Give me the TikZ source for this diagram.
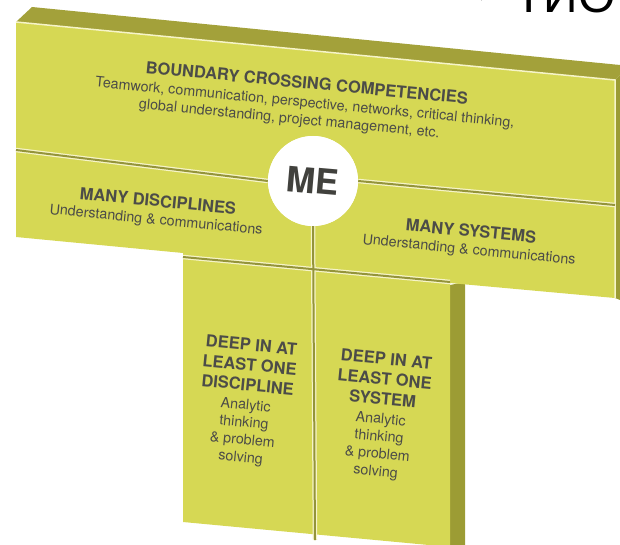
\documentclass[tikz,border=0pt]{standalone}
\usepackage{fontspec}
\setmainfont{TeX Gyre Heros}
\newfontfamily\cyrfont{Liberation Sans}
\newfontfamily\arrowfont{DejaVu Sans}
\usepackage{tikz}

\definecolor{tyellow}{RGB}{214,216,84}
\definecolor{tolive}{RGB}{163,161,58}
\definecolor{tside}{RGB}{156,156,52}
\definecolor{tcream}{RGB}{246,244,200}
\definecolor{tgroove}{RGB}{148,148,58}
\definecolor{ttext}{RGB}{76,76,72}

\newcommand{\headfont}{\bfseries\fontsize{16.5}{20}\selectfont}

\begin{document}
\begin{tikzpicture}[x=1pt,y=-1pt,
	label/.style={text=ttext,font=\fontsize{14.3}{17.5}\selectfont,rotate=-5.5,align=center,inner sep=0pt},
	groove/.style={draw=tcream,line width=4.5pt},
	groovedark/.style={draw=tgroove,line width=2pt}]
			\useasboundingbox (0,0) rectangle (620,545);
			\clip (0,0) rectangle (620,545);
			
			\fill[tolive] (16,22) -- (32,7) -- (620,65) -- (620,75) -- (615,80) -- cycle;
			\fill[tside] (615,80) -- (620,75) -- (620,300) -- (615,298) -- cycle;
			\fill[tside] (450,285) -- (465,282) -- (465,550) -- (450,550) -- cycle;
			\fill[tyellow] (16,22) -- (615,80) -- (615,298) -- (450,283) -- (450,547)
				-- (183,522) -- (183,253) -- (16,237) -- cycle;
			\draw[tcream,line width=1.5pt] (16,22) -- (615,80) -- (615,298);
			
			\coordinate (sepL) at (16,150);
			\coordinate (sepR) at (615,205);
			\coordinate (lowL) at (183,257);
			\coordinate (lowR) at (450,282);
			\coordinate (divB) at (315,540);
			
			\node[circle,fill=white,minimum size=90pt,inner sep=0pt] (me) at (313,181) {};
			\path[groove] (sepL) -- (me.west);
			\path[groove] (me.east) -- (sepR);
			\path[groove] (me.south) -- (divB);
			\path[groove] (lowL) -- (lowR);
			\path[groovedark] (sepL) -- (me.west);
			\path[groovedark] (me.east) -- (sepR);
			\path[groovedark] (me.south) -- (divB);
			\path[groovedark] (lowL) -- (lowR);
			\node[circle,fill=white,minimum size=90pt,inner sep=0pt] at (me) {};
			\node[text=ttext!85!black,font=\bfseries\fontsize{35}{35}\selectfont,rotate=-5] (metext) at (313,181) {ME};
			
			\node[label] (bound) at (305,102) {{\headfont BOUNDARY CROSSING COMPETENCIES}\\[1pt]
				Teamwork, communication, perspective, networks, critical thinking,\\
				global understanding, project management, etc.\hspace*{28pt}};
			
			\node[label] (disc) at (157,211) {{\headfont MANY DISCIPLINES}\\Understanding \& communications};
			\node[label] (sys) at (470,241) {{\headfont MANY SYSTEMS}\\Understanding \& communications};
			
			\node[label] (deepD) at (246,402) {{\headfont DEEP IN AT}\\[2.5pt]{\headfont LEAST ONE}\\[2.5pt]
				{\headfont DISCIPLINE}\\[1.5pt]Analytic\\thinking\\\& problem\\solving};
			\node[label] (deepS) at (381,416) {{\headfont DEEP IN AT}\\[2.5pt]{\headfont LEAST ONE}\\[2.5pt]
				{\headfont SYSTEM}\\[1.5pt]Analytic\\thinking\\\& problem\\solving};
			
			\node[anchor=base west,inner sep=0pt,font=\arrowfont\fontsize{46}{46}\selectfont] (cutarrow) at (454,6) {⇒};
			\node[anchor=base west,inner sep=0pt,font=\cyrfont\fontsize{48}{48}\selectfont] (cuttext) at (514,13) {ТИО};
		\end{tikzpicture}
\end{document}
